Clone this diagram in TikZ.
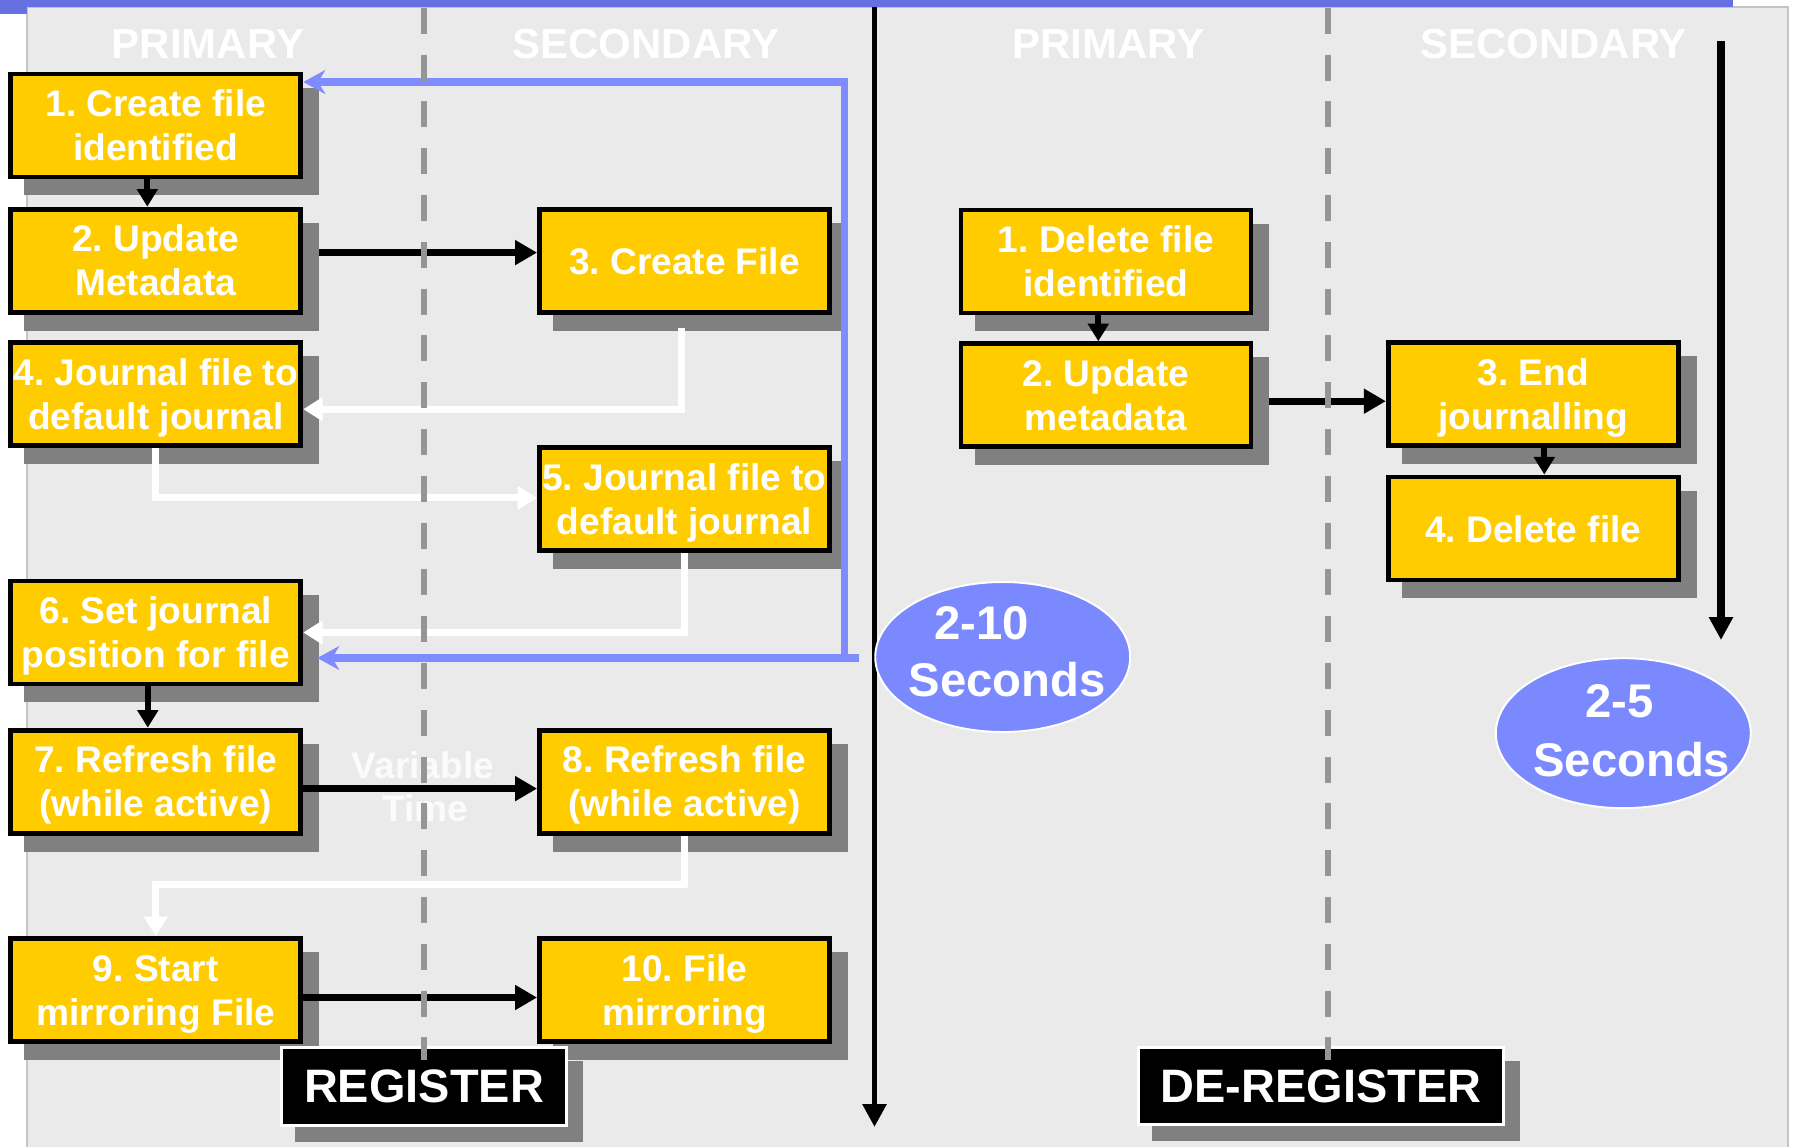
\documentclass[tikz,border=0pt]{standalone}
\usepackage{fontspec}
\setmainfont{Liberation Sans}
\usetikzlibrary{arrows.meta,calc,shapes.geometric}

\definecolor{panelgrey}{HTML}{EAEAEA}
\definecolor{panelrule}{HTML}{C4C4C4}
\definecolor{topbar}{HTML}{6670E0}
\definecolor{stepfill}{HTML}{FFCC00}
\definecolor{dropgrey}{HTML}{808080}
\definecolor{lanegrey}{HTML}{959595}
\definecolor{loopblue}{HTML}{7F8CFF}
\definecolor{timeblue}{HTML}{7B89FF}

\pgfdeclarelayer{back}
\pgfdeclarelayer{shadows}
\pgfdeclarelayer{front}
\pgfsetlayers{back,shadows,main,front}

\tikzset{
  stepbox/.style={draw=black, fill=stepfill, line width=2.8pt,
    minimum width=5.8cm, minimum height=2.06cm, inner sep=0pt,
    align=center, text=white, text height=45pt, text depth=5pt,
    font=\fontsize{21.1}{25}\selectfont\bfseries},
  oneline/.style={text height=16.2pt, text depth=0pt},
  phasebox/.style={draw=white, fill=black, line width=1.7pt, inner sep=0pt,
    text=white, font=\fontsize{26.7}{30}\selectfont\bfseries},
  lanehead/.style={text=white, anchor=base, inner sep=0pt,
    font=\fontsize{23.9}{28}\selectfont\bfseries},
  timebubble/.style={ellipse, draw=white, line width=1.1pt, fill=timeblue,
    minimum width=5.1cm, minimum height=3.0cm, inner sep=0pt},
  bubbletext/.style={text=white, anchor=base, inner sep=0pt,
    font=\fontsize{26.9}{30}\selectfont\bfseries},
  vartext/.style={text=white, opacity=0.85, anchor=base, inner sep=0pt,
    font=\fontsize{21.1}{25}\selectfont\bfseries},
  flowline/.style={draw=black, line width=4pt,
    -{Triangle[length=12.5pt,width=13.5pt]}},
  flowshort/.style={draw=black, line width=3.4pt,
    -{Triangle[length=10pt,width=11.5pt]}},
  retline/.style={draw=white, line width=4pt,
    -{Triangle[length=11pt,width=13pt]}},
  loopline/.style={draw=loopblue, line width=4.2pt,
    -{Stealth[length=12.5pt,width=13.5pt,inset=4pt]}},
  timeline/.style={draw=black, line width=3.4pt,
    -{Triangle[length=13pt,width=13pt]}},
  lanerule/.style={draw=lanegrey, line width=3.5pt, dash pattern=on 14.8pt off 11.84pt},
}

\begin{document}
\frenchspacing
\begin{tikzpicture}[x=0.02cm,y=-0.02cm]
\useasboundingbox (0,0) rectangle (1793,1147);

% panel and top rule
\begin{pgfonlayer}{back}
  \fill[panelgrey] (27,7) rectangle (1788,1147);
  \draw[panelrule, line width=0.9pt] (27,1147) -- (27,7) -- (1788,7) -- (1788,1147);
  \fill[topbar] (0,0) rectangle (27,14);
  \fill[topbar] (0,0) rectangle (1732.7,7);
\end{pgfonlayer}

% lane headings
\node[lanehead] (h1) at (208,58) {PRIMARY};
\node[lanehead] (h2) at (646,58) {SECONDARY};
\node[lanehead] (h3) at (1108.6,58) {PRIMARY};
\node[lanehead] (h4) at (1553.5,58) {SECONDARY};

% register steps
\node[stepbox] (b1)  at (155.8,125.5) {1. Create file\\identified};
\node[stepbox] (b2)  at (155.8,260.6) {2. Update\\Metadata};
\node[stepbox, oneline] (b3)  at (684.5,260.6) {3. Create File};
\node[stepbox] (b4)  at (155.8,394.2) {4. Journal file to\\default journal};
\node[stepbox] (b5)  at (684.5,498.9) {5. Journal file to\\default journal};
\node[stepbox] (b6)  at (155.8,632.5) {6. Set journal\\position for file};
\node[stepbox] (b7)  at (155.8,781.6) {7. Refresh file\\(while active)};
\node[stepbox] (b8)  at (684.5,781.6) {8. Refresh file\\(while active)};
\node[stepbox] (b9)  at (155.8,990)   {9. Start\\mirroring File};
\node[stepbox] (b10) at (684.5,990)   {10. File\\mirroring};

% de-register steps
\node[stepbox] (r1) at (1106,261.5)   {1. Delete file\\identified};
\node[stepbox] (r2) at (1106,395.2)   {2. Update\\metadata};
\node[stepbox] (r3) at (1533.3,394.2) {3. End\\journalling};
\node[stepbox, oneline] (r4) at (1533.3,528.5) {4. Delete file};

% phase labels
\node[phasebox, minimum width=5.72cm, minimum height=1.57cm] (reg) at (424,1086.4) {REGISTER};
\node[phasebox, minimum width=7.31cm, minimum height=1.55cm] (dereg) at (1321,1086) {DE-REGISTER};

% drop shadows
\begin{pgfonlayer}{shadows}
  \foreach \n in {b1,b2,b3,b4,b5,b6,b7,b8,b9,b10,r1,r2,r3,r4}
    \fill[dropgrey] ($(\n.south west)+(16,16)$) rectangle ($(\n.north east)+(16,16)$);
  \foreach \n in {reg,dereg}
    \fill[dropgrey] ($(\n.south west)+(15,15)$) rectangle ($(\n.north east)+(15,15)$);
\end{pgfonlayer}

% forward flow
\draw[flowshort] ($(b1.south)+(-8.5,0)$) coordinate (a12) -- (a12 |- b2.north);
\draw[flowline] ($(b2.east)+(16,-8)$) coordinate (a23) -- (a23 -| b3.west);
\draw[flowshort] ($(b6.south)+(-8,0)$) coordinate (a67) -- (a67 |- b7.north);
\draw[flowline] ($(b7.east)+(0,7)$) coordinate (a78) -- (a78 -| b8.west);
\draw[flowline] ($(b9.east)+(0,7.5)$) coordinate (a910) -- (a910 -| b10.west);
\draw[flowshort] ($(r1.south)+(-7.7,0)$) coordinate (c12) -- (c12 |- r2.north);
\draw[flowline] ($(r2.east)+(16,6)$) coordinate (c23) -- (c23 -| r3.west);
\draw[flowshort] ($(r3.south)+(11,0)$) coordinate (c34) -- (c34 |- r4.north);

% returns from secondary
\draw[retline] ($(b3.south)+(-3,13)$) |- ($(b4.east)+(0,15)$);
\draw[retline] (b4.south) |- ($(b5.west)+(0,-1)$);
\draw[retline] (b5.south) |- (b6.east);
\draw[retline] (b8.south) -- ++(0,49) -| (b9.north);

% loop back
\coordinate (loopend) at (859,658);
\coordinate (loopbend) at (844.5,658);
\coordinate (b6in) at ($(b6.east)+(14,0)$);
\draw[loopline] (loopend) -- (loopend -| b6in);
\draw[loopline] (loopbend) |- ($(b1.east)+(0,-43.5)$);

% elapsed time
\coordinate (t1a) at (874.5,7);
\coordinate (t1b) at (874.5,1127);
\coordinate (t2a) at (1721,41);
\coordinate (t2b) at (1721,640);
\draw[timeline] (t1a) -- (t1b);
\draw[timeline, line width=4.3pt] (t2a) -- (t2b);

\node[timebubble] (e1) at (1002.7,657) {};
\node[bubbletext] (e1a) at (981.7,639.5) {2-10};
\node[bubbletext] (e1b) at (1007,696) {Seconds};
\node[timebubble] (e2) at (1623.3,733.2) {};
\node[bubbletext] (e2a) at (1619.7,717.6) {2-5};
\node[bubbletext] (e2b) at (1631.7,776.6) {Seconds};

\node[vartext] (v1) at (423,778.5) {Variable};
\node[vartext] (v2) at (425.6,821) {Time};

% lane separators
\begin{pgfonlayer}{front}
  \coordinate (l1a) at (423.6,7.7);
  \coordinate (l1b) at (423.6,1060);
  \coordinate (l2a) at (1328,7.7);
  \coordinate (l2b) at (1328,1060);
  \draw[lanerule] (l1a) -- (l1b);
  \draw[lanerule] (l2a) -- (l2b);
\end{pgfonlayer}
\end{tikzpicture}
\end{document}
